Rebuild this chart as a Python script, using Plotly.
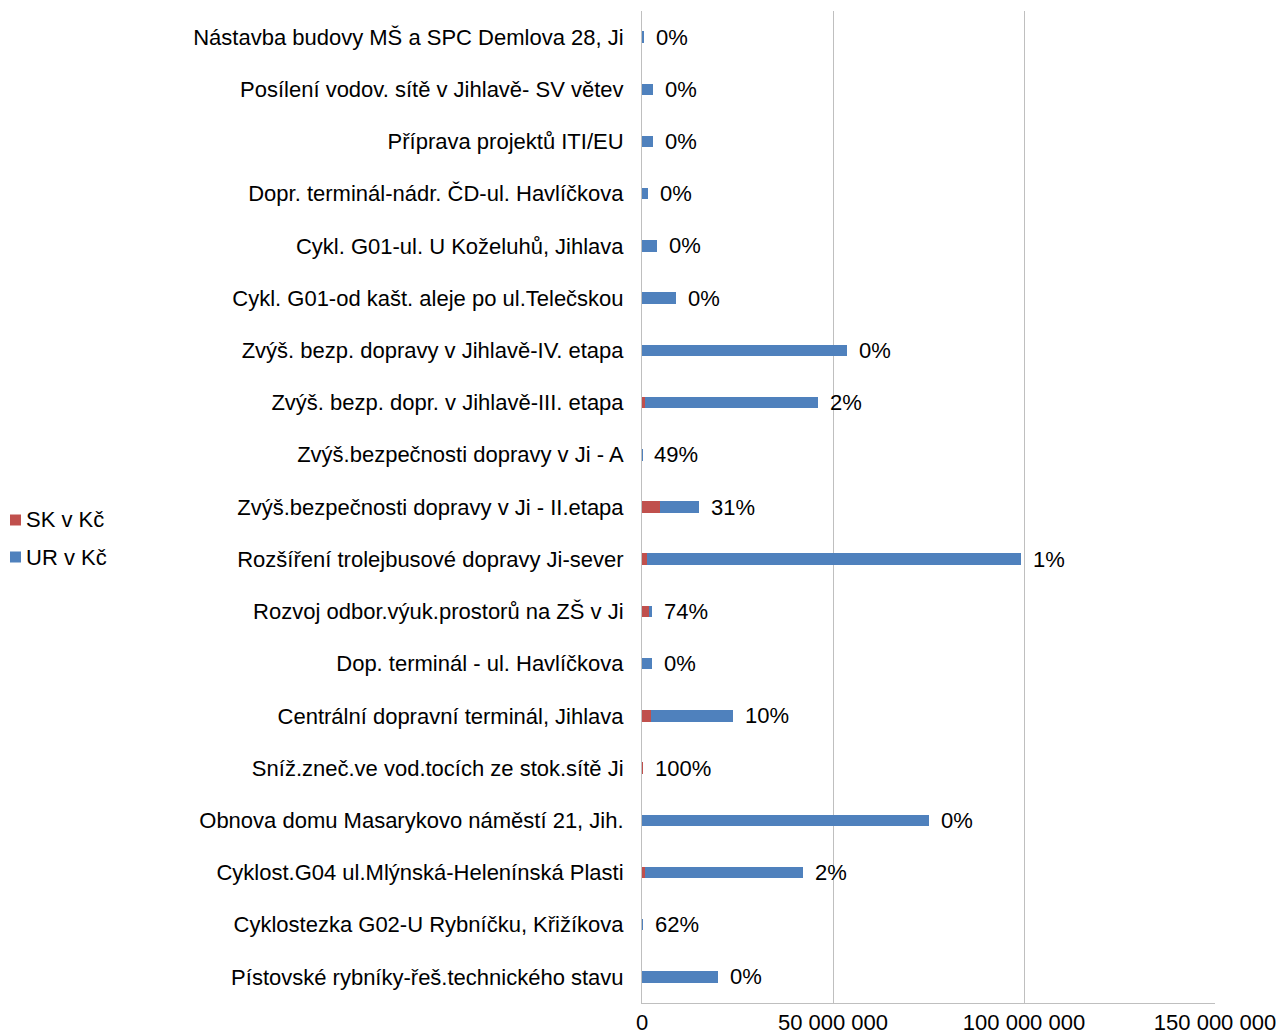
import plotly.graph_objects as go

categories = [
    "Nástavba budovy MŠ a SPC Demlova 28, Ji",
    "Posílení vodov. sítě v Jihlavě- SV větev",
    "Příprava projektů ITI/EU",
    "Dopr. terminál-nádr. ČD-ul. Havlíčkova",
    "Cykl. G01-ul. U Koželuhů, Jihlava",
    "Cykl. G01-od kašt. aleje po ul.Telečskou",
    "Zvýš. bezp. dopravy v Jihlavě-IV. etapa",
    "Zvýš. bezp. dopr. v Jihlavě-III. etapa",
    "Zvýš.bezpečnosti dopravy v Ji - A",
    "Zvýš.bezpečnosti dopravy v Ji - II.etapa",
    "Rozšíření trolejbusové dopravy Ji-sever",
    "Rozvoj odbor.výuk.prostorů na ZŠ v Ji",
    "Dop. terminál - ul. Havlíčkova",
    "Centrální dopravní terminál, Jihlava",
    "Sníž.zneč.ve vod.tocích ze stok.sítě Ji",
    "Obnova domu Masarykovo náměstí 21, Jih.",
    "Cyklost.G04 ul.Mlýnská-Helenínská Plasti",
    "Cyklostezka G02-U Rybníčku, Křižíkova",
    "Pístovské rybníky-řeš.technického stavu",
]
sk_values = [0, 0, 0, 0, 0, 0, 0, 0.9e6, 0.05e6, 4.65e6, 1.2e6, 1.85e6, 0, 2.4e6, 0.2e6, 0, 0.85e6, 0.1e6, 0]
ur_values = [0.5e6, 3.0e6, 3.0e6, 1.7e6, 3.8e6, 8.9e6, 53.7e6, 45.1e6, 0.05e6, 10.35e6, 98.0e6, 0.65e6, 2.5e6, 21.4e6, 0.0, 75.1e6, 41.2e6, 0.06e6, 20.0e6]
pct_labels = ["0%", "0%", "0%", "0%", "0%", "0%", "0%", "2%", "49%", "31%", "1%", "74%", "0%", "10%", "100%", "0%", "2%", "62%", "0%"]
x_ticks = [0, 50_000_000, 100_000_000, 150_000_000]
series_names = ["SK v Kč", "UR v Kč"]
series_colors = ["#C0504D", "#4F81BD"]

FONT = "Liberation Sans, Arial, sans-serif"
OFF = 8  # default page body margin
W, H = 1288 - OFF, 1036 - OFF
ML, MT = 642 - OFF, 11 - OFF
MR = W - (1215 - OFF)
MB = H - (1003 - OFF)
PW = W - ML - MR
PH = H - MT - MB

fig = go.Figure()
for name, vals, col in zip(series_names, [sk_values, ur_values], series_colors):
    fig.add_trace(go.Bar(y=categories, x=vals, orientation="h", name=name,
                         marker=dict(color=col, line=dict(width=0)),
                         showlegend=False))

totals = [s + u for s, u in zip(sk_values, ur_values)]
for cat, tot, lab in zip(categories, totals, pct_labels):
    fig.add_annotation(x=tot, y=cat, text=lab, showarrow=False, xanchor="left",
                       xshift=10, font=dict(size=22, color="#000000", family=FONT))

# legend drawn at left, as in the reference (page pixel coordinates)
def px_x(px):
    return (px - OFF - ML) / PW

def px_y(py):
    return 1 - (py - OFF - MT) / PH

for i, (name, col) in enumerate(zip(series_names, series_colors)):
    cy = 520 + i * 37
    fig.add_shape(type="rect", xref="paper", yref="paper",
                  x0=px_x(10), x1=px_x(21), y0=px_y(cy - 5.5), y1=px_y(cy + 5.5),
                  fillcolor=col, line=dict(width=0))
    fig.add_annotation(xref="paper", yref="paper", x=px_x(24), y=px_y(cy),
                       text=name, showarrow=False, xanchor="left", yanchor="middle",
                       font=dict(size=22, color="#000000", family=FONT))

fig.update_layout(
    width=W, height=H,
    margin=dict(l=ML, r=MR, t=MT, b=MB, autoexpand=False),
    barmode="stack", bargap=0.78,
    plot_bgcolor="white", paper_bgcolor="white",
    separators=", ",
    font=dict(family=FONT, size=22, color="#000000"),
    showlegend=False,
)
fig.update_xaxes(range=[0, 150_000_000], tickvals=x_ticks, tickformat=",d",
                 showgrid=True, gridcolor="#BFBFBF", gridwidth=1,
                 showline=True, linecolor="#BFBFBF", linewidth=1,
                 zeroline=False, ticks="", ticklabelstandoff=0, automargin=False,
                 tickfont=dict(size=22))
fig.update_yaxes(autorange="reversed", showgrid=False, showline=True,
                 linecolor="#BFBFBF", linewidth=1, ticks="", ticklabelstandoff=13,
                 automargin=False, tickfont=dict(size=22))

fig.write_html("out.html")
